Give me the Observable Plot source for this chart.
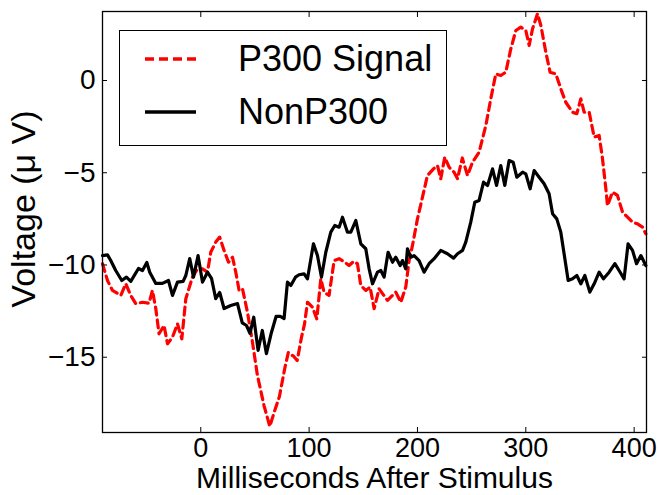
<!DOCTYPE html>
<html><head><meta charset="utf-8">
<script src="https://cdn.jsdelivr.net/npm/d3@7"></script>
<script src="https://cdn.jsdelivr.net/npm/@observablehq/plot@0.6"></script>
<style>
body{margin:0;background:#fff;}
#wrap{position:relative;width:660px;height:495px;font-family:"Liberation Sans",Arial,sans-serif;}
#legend{position:absolute;left:119px;top:30px;width:328px;height:116px;border:1.3px solid #000;background:#fff;box-sizing:border-box;}
#legend .row{position:absolute;left:0;height:40px;display:flex;align-items:center;}
#legend .row span{position:absolute;left:118px;font-size:36px;white-space:nowrap;color:#000;line-height:40px;top:0;}
</style></head><body><div id="wrap"></div>
<script>
// time axis (ms after stimulus) and voltages (µV)
const p300Ms = [-90.7,-86.1,-81.5,-73.8,-69.2,-64.6,-60.0,-53.8,-47.7,-44.6,-41.5,-38.5,-33.9,-30.7,-26.1,-21.5,-17.5,-13.8,-7.7,-3.0,1.6,6.2,9.2,13.8,17.5,21.5,25.6,29.3,32.3,35.4,38.5,43.1,47.7,52.3,58.4,63.7,68.0,72.6,77.5,80.8,85.7,89.0,93.0,95.7,98.5,103.1,107.1,110.8,113.8,118.4,123.1,127.7,132.9,136.9,141.0,144.6,147.7,152.3,156.3,160.0,164.6,172.3,180.0,184.6,189.2,192.3,195.4,200.0,204.6,209.2,214.8,218.5,221.5,225.2,229.2,233.8,237.0,241.4,246.2,250.8,256.9,263.1,267.7,272.3,276.9,281.5,286.2,290.8,295.4,300.0,303.1,306.2,310.8,313.9,318.5,322.4,327.7,332.3,336.9,343.1,347.1,350.8,353.8,358.5,363.1,367.7,370.8,373.9,375.4,380.0,384.6,389.3,393.9,398.5,403.1,407.7,410.8];
const p300Volt = [-9.93,-10.84,-11.38,-11.65,-11.02,-11.65,-12.10,-12.02,-12.07,-11.38,-12.37,-13.73,-13.28,-14.27,-13.91,-13.19,-14.00,-11.83,-10.66,-10.21,-10.21,-10.39,-9.31,-8.76,-8.49,-9.21,-9.85,-9.58,-10.39,-11.38,-11.29,-12.56,-14.18,-15.99,-17.62,-18.75,-17.94,-17.13,-15.61,-14.74,-14.95,-15.18,-13.91,-13.22,-12.02,-12.29,-12.92,-10.75,-11.47,-11.65,-9.76,-9.66,-9.85,-10.03,-9.81,-9.93,-11.11,-11.38,-11.20,-12.37,-11.29,-11.92,-11.47,-12.02,-11.20,-9.76,-8.94,-7.50,-6.33,-5.15,-4.79,-4.61,-5.33,-4.16,-4.70,-4.97,-5.33,-4.20,-5.15,-4.43,-3.89,-2.44,-0.99,0.36,0.27,0.45,1.72,2.71,2.89,2.71,1.90,2.80,3.62,2.98,1.53,0.45,0.36,-0.45,-1.18,-1.72,-1.80,-0.99,-1.72,-1.72,-3.07,-2.98,-4.24,-5.87,-6.78,-6.05,-6.23,-7.14,-7.41,-7.68,-7.77,-7.95,-8.31];
const nonMs = [-90.7,-86.1,-83.1,-78.5,-72.9,-68.6,-64.6,-57.5,-53.8,-49.8,-47.1,-41.5,-35.4,-29.8,-26.1,-21.5,-16.3,-13.8,-10.2,-6.7,-2.5,1.6,6.2,9.9,13.8,17.5,21.5,27.7,33.9,38.3,42.2,45.4,48.9,52.9,56.8,60.6,64.9,69.5,73.4,76.9,80.0,83.1,87.4,90.7,95.4,98.5,104.0,107.7,111.4,115.4,120.0,123.7,127.7,130.8,135.4,138.5,143.1,147.7,152.3,155.4,158.5,163.1,166.2,169.2,172.9,177.0,180.0,184.0,186.2,189.2,190.8,193.8,196.9,201.5,206.1,210.7,215.4,221.5,227.7,233.3,237.0,241.6,244.6,249.2,252.9,256.9,261.0,264.7,269.3,273.0,276.9,280.6,284.6,288.3,291.7,297.0,300.0,304.0,307.7,312.3,316.9,321.5,324.7,328.6,332.3,339.1,343.1,347.1,350.8,354.5,359.1,363.1,367.7,371.7,376.9,382.2,386.1,390.7,394.4,398.5,402.2,406.2,410.8];
const nonVolt = [-9.49,-9.45,-9.76,-10.30,-10.84,-10.66,-10.89,-10.19,-10.30,-9.86,-10.39,-11.00,-11.00,-10.84,-11.65,-10.93,-10.89,-10.57,-9.65,-10.66,-9.49,-10.93,-10.39,-10.72,-11.82,-11.49,-12.36,-12.20,-12.09,-13.14,-13.28,-13.71,-12.83,-14.63,-13.55,-14.81,-13.73,-12.79,-12.79,-12.90,-10.93,-11.11,-10.66,-10.53,-10.48,-10.75,-8.85,-9.49,-10.66,-9.31,-8.22,-7.86,-7.95,-7.41,-8.22,-8.22,-7.59,-8.85,-9.12,-10.21,-11.02,-10.39,-10.30,-10.66,-9.31,-9.85,-9.58,-10.03,-9.76,-10.21,-9.12,-9.58,-9.49,-9.76,-10.39,-9.93,-9.66,-9.21,-9.39,-9.63,-9.39,-9.21,-8.76,-7.68,-6.60,-6.50,-5.51,-5.69,-4.79,-5.69,-4.61,-5.69,-4.34,-4.43,-5.24,-4.97,-5.06,-5.87,-4.88,-5.24,-5.60,-6.14,-7.22,-7.50,-8.22,-10.84,-10.75,-10.57,-11.02,-10.57,-11.47,-11.02,-10.39,-10.75,-10.39,-9.93,-10.30,-10.75,-8.85,-9.21,-9.93,-9.49,-10.03];
const xTicks = [0, 100, 200, 300, 400];
const yTicks = [-15, -10, -5, 0];
const seriesNames = ["P300 Signal", "NonP300"];
const xLabel = "Milliseconds After Stimulus";
const yLabel = "Voltage (μ V)";

const p300 = p300Ms.map((m, i) => ({ms: m, v: p300Volt[i]}));
const non = nonMs.map((m, i) => ({ms: m, v: nonVolt[i]}));
const fmt = d => d < 0 ? "\u2212" + Math.abs(d) : String(d);
const font = '"Liberation Sans", Arial, sans-serif';

const chart = Plot.plot({
  width: 660, height: 495,
  marginLeft: 102, marginRight: 14, marginTop: 11, marginBottom: 63,
  style: {fontFamily: font, fontSize: "28px", color: "#000", background: "#fff", overflow: "visible"},
  x: {domain: [-90.7, 411.4]},
  y: {domain: [-19.08, 3.74]},
  marks: [
    Plot.line(p300, {x: "ms", y: "v", stroke: "#ff0000", strokeWidth: 3.2, strokeDasharray: "8,5"}),
    Plot.line(non, {x: "ms", y: "v", stroke: "#000", strokeWidth: 3.2}),
    Plot.frame({stroke: "#000", strokeWidth: 1.3}),
    Plot.axisX({ticks: xTicks, anchor: "bottom", tickSize: -5, tickPadding: 10, tickFormat: fmt, label: null, fontSize: 27}),
    Plot.axisX({ticks: xTicks, anchor: "top", tickSize: -5, tickFormat: () => "", label: null}),
    Plot.axisY({ticks: yTicks, anchor: "left", tickSize: -5, tickPadding: 12, tickFormat: fmt, label: null, fontSize: 28}),
    Plot.axisY({ticks: yTicks, anchor: "right", tickSize: -5, tickFormat: () => "", label: null}),
    Plot.text([xLabel], {frameAnchor: "bottom", text: d => d, lineAnchor: "middle", dy: 46, fontSize: 30, fill: "#000"}),
    Plot.text([yLabel], {frameAnchor: "left", text: d => d, textAnchor: "middle", lineAnchor: "middle", rotate: -90, dx: -78, dy: -13, fontSize: 34, fill: "#000"})
  ]
});
const wrap = document.getElementById("wrap");
wrap.appendChild(chart);

const legend = document.createElement("div");
legend.id = "legend";
const styles = [
  {stroke: "#ff0000", dash: "9,5", top: 8},
  {stroke: "#000", dash: null, top: 61}
];
seriesNames.forEach((name, i) => {
  const s = styles[i];
  const row = document.createElement("div");
  row.className = "row";
  row.style.top = s.top + "px";
  row.style.width = "320px";
  row.innerHTML = `<svg width="100" height="40" style="position:absolute;left:0;top:0"><line x1="25" x2="76" y1="20" y2="20" stroke="${s.stroke}" stroke-width="3.5" ${s.dash ? `stroke-dasharray="${s.dash}"` : ""}/></svg><span>${name}</span>`;
  legend.appendChild(row);
});
wrap.appendChild(legend);
</script></body></html>
